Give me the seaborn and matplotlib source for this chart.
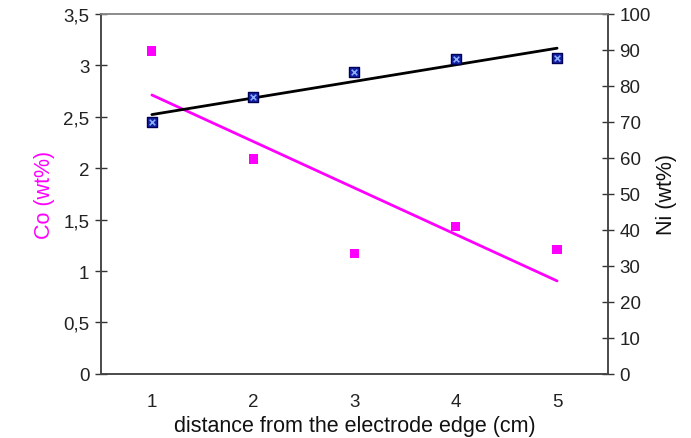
import matplotlib
matplotlib.use("Agg")
import matplotlib.pyplot as plt
import seaborn as sns
import numpy as np
import pandas as pd

sns.set_theme(style="white")
plt.rcParams['font.family'] = ['Liberation Sans', 'DejaVu Sans']

distance = [1, 2, 3, 4, 5]
co_wt = [3.14, 2.09, 1.17, 1.43, 1.21]
ni_wt = [70.0, 77.0, 84.0, 87.5, 87.8]
co_ticks = [0, 0.5, 1, 1.5, 2, 2.5, 3, 3.5]
co_ticklabels = ["0", "0,5", "1", "1,5", "2", "2,5", "3", "3,5"]
ni_ticks = [0, 10, 20, 30, 40, 50, 60, 70, 80, 90, 100]

df = pd.DataFrame({"distance": distance, "Co": co_wt, "Ni": ni_wt})

fig = plt.figure(figsize=(6.91, 4.39), dpi=100)
ax = fig.add_axes([0.1465, 0.146, 0.733, 0.820])
ax2 = ax.twinx()

MAG = "#ff00ff"
NAVY = "#1424a8"

sns.regplot(data=df, x="distance", y="Co", ax=ax, ci=None, truncate=True,
            marker="s", scatter_kws=dict(s=44, color=MAG, edgecolor="none", alpha=1, zorder=3),
            line_kws=dict(color=MAG, lw=2))
sns.regplot(data=df, x="distance", y="Ni", ax=ax2, ci=None, truncate=True,
            marker="s", scatter_kws=dict(s=62, color=NAVY, edgecolor="#000055", linewidths=1.0,
                                         alpha=1, zorder=3),
            line_kws=dict(color="black", lw=2))
sns.scatterplot(data=df, x="distance", y="Ni", ax=ax2, marker="x", s=16,
                color="#8fb0ff", linewidth=1.1, zorder=4)

ax.set_xlim(0.5, 5.5)
ax.set_ylim(0, 3.5)
ax2.set_ylim(0, 100)

ax.set_xticks([0.5, 1.5, 2.5, 3.5, 4.5, 5.5])
ax.set_xticklabels([])
ax.set_xticks(distance, minor=True)
ax.set_xticklabels([str(d) for d in distance], minor=True)
ax.set_yticks(co_ticks)
ax.set_yticklabels(co_ticklabels)
ax2.set_yticks(ni_ticks)
ax2.set_yticklabels([str(t) for t in ni_ticks])

fs = 13.5
ax.tick_params(axis="x", which="major", direction="inout", length=9, width=1, color="#333333")
ax.tick_params(axis="x", which="minor", length=0, labelsize=fs, pad=14, labelcolor="#222222")
ax.tick_params(axis="y", direction="inout", length=9, width=1, color="#333333",
               labelsize=fs, labelcolor="#222222", left=True, pad=4)
ax2.tick_params(axis="y", direction="inout", length=9, width=1, color="#333333",
                labelsize=fs, labelcolor="#222222", right=True, pad=4)

for a in (ax, ax2):
    for s in a.spines.values():
        s.set_color("#444444")
        s.set_linewidth(1.1)
    a.spines["top"].set_color("#888888")

lfs = 15.5
ax.set_xlabel("distance from the electrode edge (cm)", fontsize=lfs, color="#111111", labelpad=3)
ax.set_ylabel("Co (wt%)", fontsize=lfs, color=MAG, labelpad=6)
ax2.set_ylabel("Ni (wt%)", fontsize=lfs, color="#111111", labelpad=4)

fig.savefig("out.png", dpi=100)
